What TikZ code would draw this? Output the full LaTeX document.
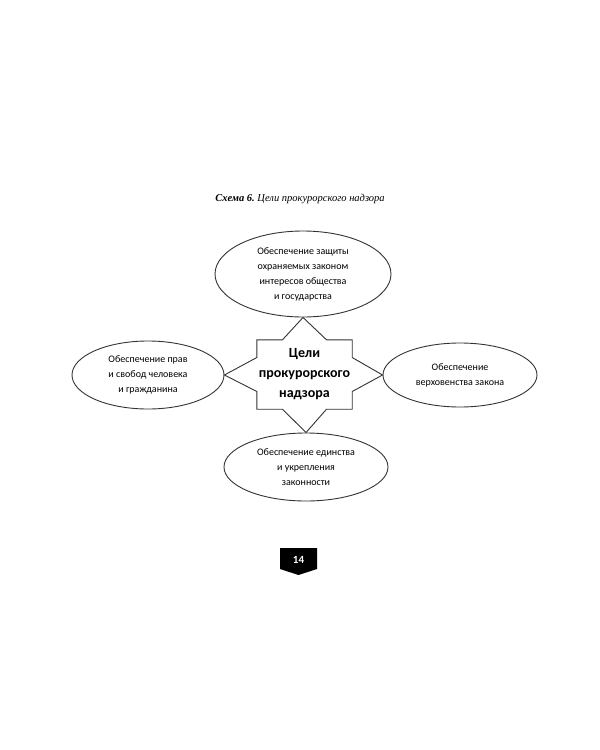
\documentclass[tikz,border=0pt]{standalone}
\usepackage{fontspec}
\setmainfont{Carlito}
\newfontfamily\captionfont{Liberation Serif}
\usetikzlibrary{shapes.geometric,calc}
\tikzset{
  goalbox/.style={inner sep=0pt, minimum width=95, minimum height=69,
    align=center, font=\fontsize{14}{20}\selectfont\bfseries},
  aimellipse/.style={ellipse, draw=black!80, line width=0.9pt, inner sep=0pt,
    align=center, font=\fontsize{10}{15}\selectfont},
  outline/.style={draw=black!80, line width=0.9pt, line join=miter},
}

\begin{document}
\begin{tikzpicture}[x=1pt,y=-1pt]
    \useasboundingbox (0,0) rectangle (600,750);

    %%%%%%%%%%%%%%%%%%
    %%%%% Caption %%%%
    %%%%%%%%%%%%%%%%%%
    \node (caption) at (300,199) {\captionfont\fontsize{10.5}{12}\selectfont\bfseries\itshape Схема 6.\ \mdseries Цели прокурорского надзора};

    %%%%%%%%%%%%%%%%%%
    %%%%% Goals %%%%%%
    %%%%%%%%%%%%%%%%%%
    \node[aimellipse, minimum width=176, minimum height=86] (top) at (303,274)
      {Обеспечение защиты\\охраняемых законом\\интересов общества\\и государства};
    \node[aimellipse, minimum width=152, minimum height=68] (left) at (148,375)
      {Обеспечение прав\\и свобод человека\\и гражданина};
    \node[aimellipse, minimum width=154, minimum height=64] (right) at (460,375)
      {Обеспечение\\верховенства закона};
    \node[aimellipse, minimum width=164, minimum height=68] (bottom) at (306,467)
      {Обеспечение единства\\и укрепления\\законности};

    %%%%%%%%%%%%%%%%%%
    %%%%% Centre %%%%%
    %%%%%%%%%%%%%%%%%%
    \node[goalbox] (goal) at (304.5,374.5) {Цели\\прокурорского\\надзора};

    % Box outline with the four wedges pointing to the goals
    \draw[outline] (goal.north west) -- ($(goal.north)+(-22,0)$) -- (top.south)
      -- ($(goal.north)+(22,0)$) -- (goal.north east)
      -- ($(goal.east)+(0,-17)$) -- (right.west) -- ($(goal.east)+(0,17)$)
      -- (goal.south east) -- ($(goal.south)+(22,0)$) -- (bottom.north)
      -- ($(goal.south)+(-22,0)$) -- (goal.south west)
      -- ($(goal.west)+(0,17)$) -- (left.east) -- ($(goal.west)+(0,-17)$) -- cycle;

    %%%%%%%%%%%%%%%%%%
    %%%%% Page %%%%%%%
    %%%%%%%%%%%%%%%%%%
    \fill[black] (280,548) -- (317,548) -- (317,569) -- (298.5,575) -- (280,569) -- cycle;
    \node[text=white, font=\fontsize{11}{12}\selectfont\bfseries] (page) at (298.5,560) {14};

\end{tikzpicture}
\end{document}
